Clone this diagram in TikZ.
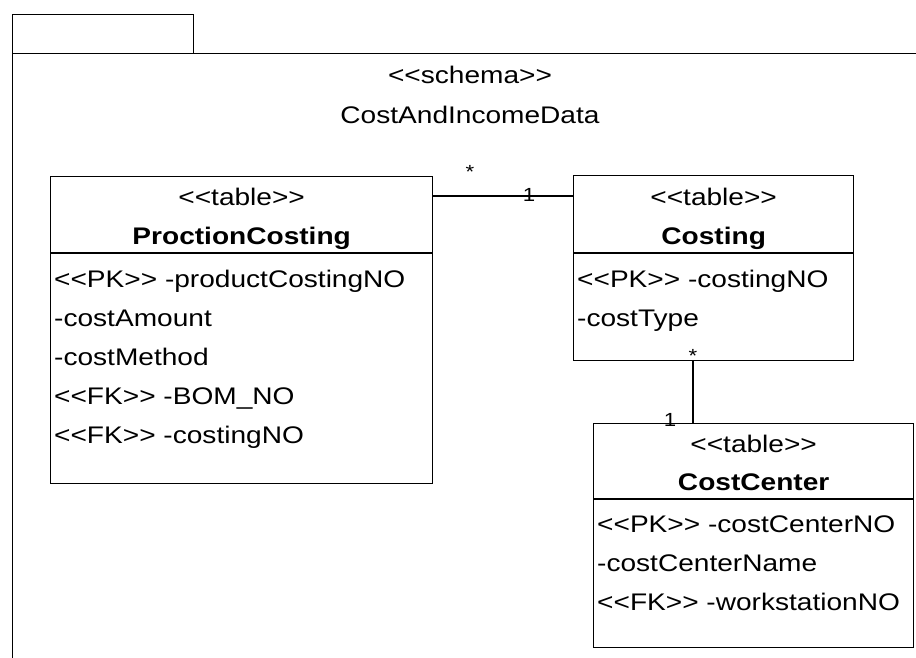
\documentclass[tikz,border=0pt]{standalone}
\usepackage{fontspec}
\setmainfont{Liberation Sans}[FakeStretch=1.17]
\begin{document}
\begin{tikzpicture}[x=1pt,y=-1pt,
  frame/.style={draw, line width=1.3pt},
  tbl/.style={draw, line width=1.3pt, inner sep=0pt, anchor=north west, rectangle},
  hdr/.style={anchor=base, inner sep=0pt, font=\fontsize{24}{28}\selectfont},
  ttl/.style={anchor=base, inner sep=0pt, font=\fontsize{24}{28}\selectfont\bfseries},
  attr/.style={anchor=base west, inner sep=0pt, font=\fontsize{24}{28}\selectfont},
  mult/.style={inner sep=0pt, font=\fontsize{19}{22}\selectfont},
  conn/.style={line width=1.3pt}]
\useasboundingbox (0,0) rectangle (916,658);
\clip (0,0) rectangle (916,658);
% package
\node[tbl, minimum width=181pt, minimum height=39pt] (tab) at (12,14) {};
\node[tbl, minimum width=950pt, minimum height=650pt] (pkg) at (12,53) {};
\node[hdr] (schema) at (470,84) {<{}<schema>{}>};
\node[hdr] (pkgname) at (470,124) {CostAndIncomeData};
% ProctionCosting
\node[tbl, minimum width=382pt, minimum height=307pt] (pc) at (50,176) {};
\node[hdr] (pcst) at ([yshift=-29pt]pc.north) {<{}<table>{}>};
\node[ttl] (pcname) at ([yshift=-68pt]pc.north) {ProctionCosting};
\draw[conn] ([yshift=-77pt]pc.north west) -- ([yshift=-77pt]pc.north east);
\node[attr] (pca1) at ([xshift=4pt,yshift=-111pt]pc.north west) {<{}<PK>{}> -productCostingNO};
\node[attr] (pca2) at ([xshift=4pt,yshift=-150pt]pc.north west) {-costAmount};
\node[attr] (pca3) at ([xshift=4pt,yshift=-189pt]pc.north west) {-costMethod};
\node[attr] (pca4) at ([xshift=4pt,yshift=-228pt]pc.north west) {<{}<FK>{}> -BOM\_NO};
\node[attr] (pca5) at ([xshift=4pt,yshift=-267pt]pc.north west) {<{}<FK>{}> -costingNO};
% Costing
\node[tbl, minimum width=280pt, minimum height=185pt] (cst) at (573,175) {};
\node[hdr] (cstst) at ([yshift=-30pt]cst.north) {<{}<table>{}>};
\node[ttl] (cstname) at ([yshift=-69pt]cst.north) {Costing};
\draw[conn] ([yshift=-78pt]cst.north west) -- ([yshift=-78pt]cst.north east);
\node[attr] (csta1) at ([xshift=4pt,yshift=-112pt]cst.north west) {<{}<PK>{}> -costingNO};
\node[attr] (csta2) at ([xshift=4pt,yshift=-151pt]cst.north west) {-costType};
% CostCenter
\node[tbl, minimum width=320pt, minimum height=224pt] (cc) at (593,423) {};
\node[hdr] (ccst) at ([yshift=-29pt]cc.north) {<{}<table>{}>};
\node[ttl] (ccname) at ([yshift=-67pt]cc.north) {CostCenter};
\draw[conn] ([yshift=-76pt]cc.north west) -- ([yshift=-76pt]cc.north east);
\node[attr] (cca1) at ([xshift=4pt,yshift=-109pt]cc.north west) {<{}<PK>{}> -costCenterNO};
\node[attr] (cca2) at ([xshift=4pt,yshift=-148pt]cc.north west) {-costCenterName};
\node[attr] (cca3) at ([xshift=4pt,yshift=-187pt]cc.north west) {<{}<FK>{}> -workstationNO};
% connectors
\coordinate (pcE) at ([yshift=-20pt]pc.north east);
\draw[conn] (pcE) -- (pcE -| cst.west);
\coordinate (cstS) at ([xshift=120pt]cst.south west);
\draw[conn] (cstS) -- (cstS |- cc.north);
\node[mult] (m1) at (470,172) {*};
\node[mult] (m2) at (529,195) {1};
\node[mult] (m3) at (693,356) {*};
\node[mult] (m4) at (670,420) {1};
\end{tikzpicture}
\end{document}
